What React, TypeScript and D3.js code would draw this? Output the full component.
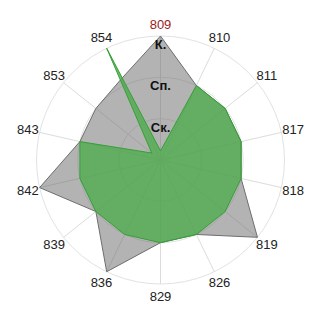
import React from "react";
import * as d3 from "d3";

const categories = ["809", "810", "811", "817", "818", "819", "826", "829", "836", "839", "842", "843", "853", "854"];
const grayValues = [3, 2, 2, 2, 2, 3, 2, 2, 3, 2, 3, 2, 2, 2.18];
const greenValues = [0.22, 2, 2, 2, 2, 2, 2, 2, 2, 2, 2, 2, 0.27, 3];
const levelValues = [1, 2, 3];
const levelLabels = ["Ск.", "Сп.", "К."];

export default function App() {
  const W = 320, H = 320;
  const cx = 160.5, cy = 160, R = 124;
  const n = categories.length;
  const r = d3.scaleLinear().domain([0, 3]).range([0, R]);
  const angle = d3.scaleLinear().domain([0, n]).range([0, 2 * Math.PI]);

  const line = d3
    .lineRadial<number>()
    .angle((_, i) => angle(i))
    .radius((v) => r(v))
    .curve(d3.curveLinearClosed);

  const labelR = 136;

  return (
    <svg width={W} height={H} style={{ position: "absolute", left: 0, top: 0 }}>
      <rect width={W} height={H} fill="#fff" />
      <g transform={`translate(${cx},${cy})`}>
        {levelValues.map((v) => (
          <circle key={v} r={r(v)} fill="none" stroke="#e2e2e2" strokeWidth={1} />
        ))}
        {categories.map((c, i) => {
          const a = angle(i);
          return (
            <line
              key={c}
              x1={0}
              y1={0}
              x2={R * Math.sin(a)}
              y2={-R * Math.cos(a)}
              stroke="#dcdcdc"
              strokeWidth={1}
            />
          );
        })}
        <path d={line(grayValues) || ""} fill="rgb(110,110,110)" fillOpacity={0.52} stroke="#6e6e6e" strokeWidth={1} />
        <path d={line(greenValues) || ""} fill="rgb(72,172,72)" fillOpacity={0.75} stroke="#35a035" strokeWidth={1} />
        {levelValues.map((v, i) => (
          <text
            key={v}
            x={0}
            y={-r(v) + 13}
            textAnchor="middle"
            fontFamily="'Liberation Sans', Arial, sans-serif"
            fontWeight="bold"
            fontSize={13}
            fill="#111"
          >
            {levelLabels[i]}
          </text>
        ))}
        {categories.map((c, i) => {
          const a = angle(i);
          return (
            <text
              key={c}
              x={labelR * Math.sin(a)}
              y={-labelR * Math.cos(a)}
              dy="0.35em"
              textAnchor="middle"
              fontFamily="'Liberation Sans', Arial, sans-serif"
              fontSize={13}
              fill={i === 0 ? "#9b1c1c" : "#222"}
            >
              {c}
            </text>
          );
        })}
      </g>
    </svg>
  );
}
